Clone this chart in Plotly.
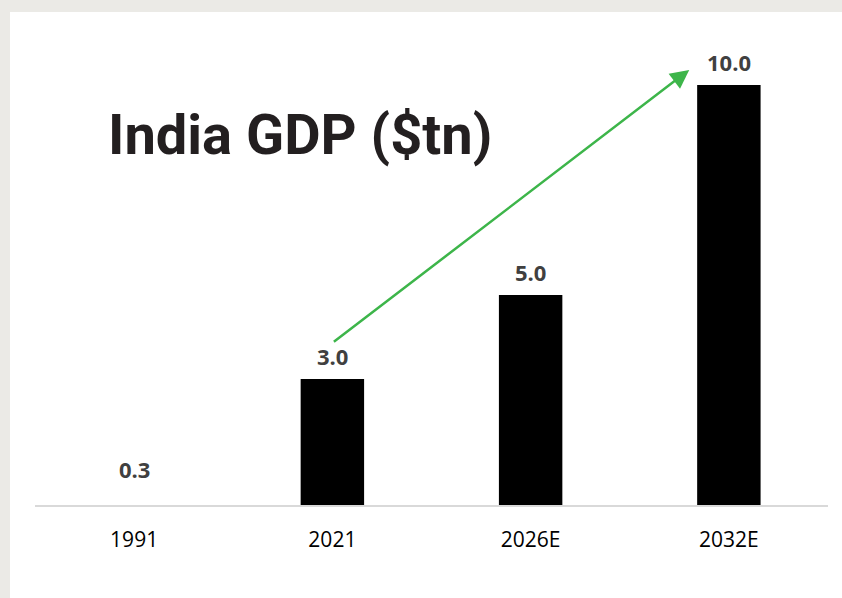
import plotly.graph_objects as go

# India GDP in trillion USD
years = ["1991", "2021", "2026E", "2032E"]
gdp_tn = [0.3, 3.0, 5.0, 10.0]
value_labels = ["0.3", "3.0", "5.0", "10.0"]
bar_colors = ["rgba(0,0,0,0)", "#000000", "#000000", "#000000"]

W, H = 842, 598
L, R, T, B = 35, 14, 64, 93
plot_w = W - L - R
plot_h = H - T - B
y_max = 10.5

positions = list(range(len(years)))


def px_to_paper_x(px):
    return (px - L) / plot_w


def px_to_paper_y(py):
    return (H - B - py) / plot_h


fig = go.Figure()
fig.add_trace(go.Bar(
    x=positions,
    y=gdp_tn,
    width=0.32,
    marker=dict(color=bar_colors, line=dict(width=0)),
    hovertext=years,
    hoverinfo="text+y",
))

# value labels above bars
for pos, v, lab in zip(positions, gdp_tn, value_labels):
    fig.add_annotation(
        x=pos, y=v, xref="x", yref="y", text=f"<b>{lab}</b>",
        showarrow=False, yanchor="bottom", yshift=6,
        font=dict(family="Open Sans", size=22, color="#404040"),
    )

# growth arrow from 2021 towards 2032E
fig.add_annotation(
    x=2.80, y=10.36, ax=1.0, ay=3.86,
    xref="x", yref="y", axref="x", ayref="y",
    text="", showarrow=True, arrowhead=2, arrowsize=1.5,
    arrowwidth=2.5, arrowcolor="#3DB54A", standoff=0, startstandoff=0,
)

# chart heading
fig.add_annotation(
    x=px_to_paper_x(106), y=px_to_paper_y(135), xref="paper", yref="paper",
    text="<b>India GDP ($tn)</b>", showarrow=False,
    xanchor="left", yanchor="middle",
    font=dict(family="Roboto", size=56, color="#231F20"),
)

# light grey frame along the top and left edges
frame = "#EBEAE6"
fig.add_shape(type="rect", xref="paper", yref="paper", layer="below",
              x0=px_to_paper_x(0), x1=px_to_paper_x(W),
              y0=px_to_paper_y(12), y1=px_to_paper_y(0),
              fillcolor=frame, line=dict(width=0))
fig.add_shape(type="rect", xref="paper", yref="paper", layer="below",
              x0=px_to_paper_x(0), x1=px_to_paper_x(10),
              y0=px_to_paper_y(H), y1=px_to_paper_y(0),
              fillcolor=frame, line=dict(width=0))

fig.update_layout(
    width=W, height=H,
    margin=dict(l=L, r=R, t=T, b=B, pad=0),
    paper_bgcolor="#FFFFFF",
    plot_bgcolor="rgba(0,0,0,0)",
    showlegend=False,
    xaxis=dict(
        range=[-0.5, len(years) - 0.5],
        tickmode="array", tickvals=positions, ticktext=years,
        showline=True, linecolor="#D9D9D9", linewidth=1.5,
        showgrid=False, zeroline=False,
        ticks="", ticklabelstandoff=15,
        tickfont=dict(family="Open Sans", size=21, color="#000000"),
    ),
    yaxis=dict(
        range=[0, y_max], visible=False, showgrid=False, zeroline=False,
    ),
)

fig.write_html("out.html", include_plotlyjs=True, config={"displayModeBar": False})
